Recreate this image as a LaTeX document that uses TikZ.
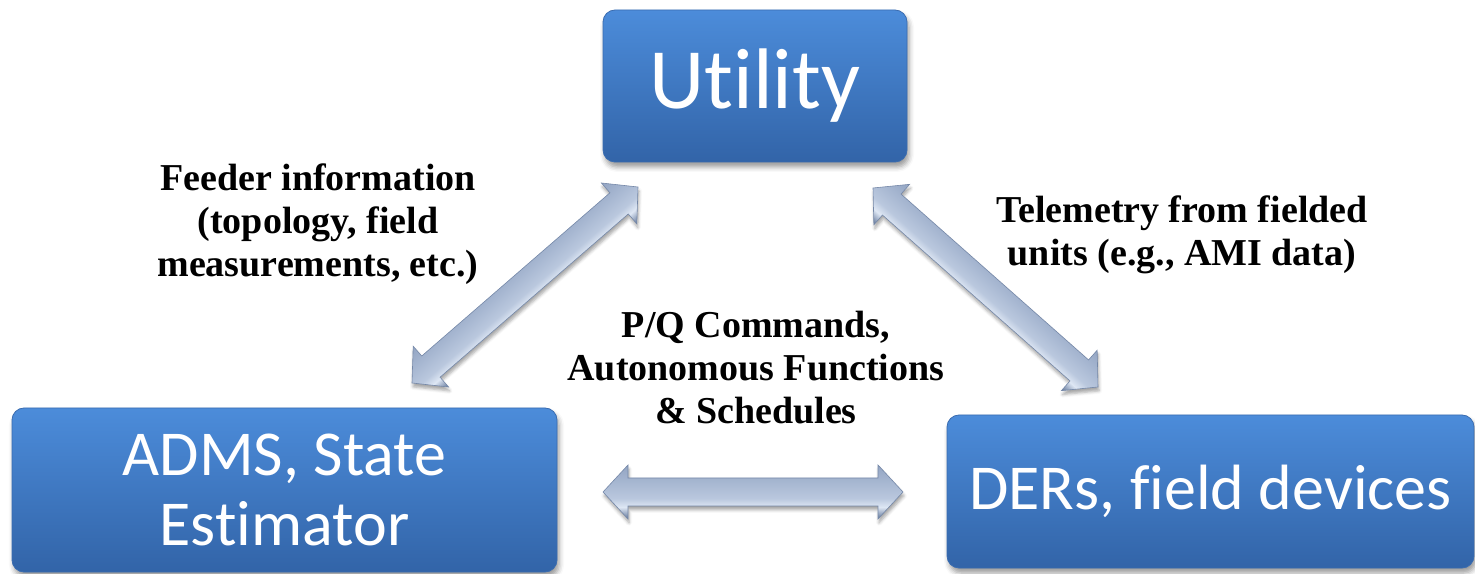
\documentclass[tikz,border=0pt]{standalone}
\usepackage{fontspec}
\setmainfont{Liberation Serif}
\newfontfamily\boxfont[Ligatures={NoCommon}]{Carlito}
\usetikzlibrary{shadows.blur}

\definecolor{boxtop}{HTML}{4C8CDA}
\definecolor{boxbot}{HTML}{3264A8}
\definecolor{boxedge}{HTML}{3A6CB0}
\definecolor{arrowedge}{HTML}{7588A8}

% steel-blue gradient across the width of the block arrows
\pgfdeclareverticalshading{arrowshade}{100bp}{%
  color(0bp)=(arrowedge!85!black);
  color(24bp)=(arrowedge!85!black);
  color(27bp)=(arrowedge);
  color(36bp)=({rgb,255:red,222;green,231;blue,244});
  color(44bp)=({rgb,255:red,186;green,200;blue,222});
  color(58bp)=({rgb,255:red,168;green,184;blue,210});
  color(76bp)=({rgb,255:red,146;green,164;blue,194});
  color(100bp)=({rgb,255:red,146;green,164;blue,194})}

% double-headed block arrow from one named point to another
\newcommand\linkarrow[2]{%
  \path (#1); \pgfgetlastxy{\lax}{\lay}%
  \path (#2); \pgfgetlastxy{\lbx}{\lby}%
  \pgfmathsetmacro\lang{atan2(\lby-\lay,\lbx-\lax)}%
  \pgfmathsetmacro\llen{veclen(\lbx-\lax,\lby-\lay)}%
  \pgfmathsetmacro\sdx{4*cos(-75-\lang)}%
  \pgfmathsetmacro\sdy{4*sin(-75-\lang)}%
  \begin{scope}[transform canvas={shift={(\lax,\lay)},rotate=\lang}]
    \shade[shading=arrowshade, draw=arrowedge, line width=.6pt,
      blur shadow={shadow xshift=\sdx pt, shadow yshift=\sdy pt,
                   shadow opacity=35, shadow blur radius=3pt}]
      (0,0) -- (25,27) -- (25,14) -- (\llen-25,14) -- (\llen-25,27)
      -- (\llen,0) -- (\llen-25,-27) -- (\llen-25,-14) -- (25,-14)
      -- (25,-27) -- cycle;
  \end{scope}}

\tikzset{
  box/.style={rounded corners=12pt, top color=boxtop, bottom color=boxbot,
    draw=boxedge, line width=.8pt, text=white, align=center, inner sep=0pt,
    blur shadow={shadow xshift=2pt, shadow yshift=-5pt, shadow opacity=40,
                 shadow blur radius=5pt}},
  lbl/.style={align=center, inner sep=0pt,
    font=\bfseries\fontsize{38}{43}\selectfont}
}

\begin{document}
\begin{tikzpicture}[x=1pt,y=1pt]
\useasboundingbox (0,0) rectangle (1475,573);

% the three parties
\node[box, minimum width=304pt, minimum height=152pt,
      font=\boxfont\fontsize{86}{90}\selectfont] (util) at (755,487) {Utility};
\node[box, minimum width=545pt, minimum height=164pt,
      font=\boxfont\fontsize{64}{70}\selectfont] (adms) at (284.5,83) {ADMS, State\\Estimator};
\node[box, minimum width=527pt, minimum height=153pt,
      font=\boxfont\fontsize{64}{70}\selectfont] (ders) at (1210.5,81.5) {DERs, field devices};

% arrow end points
\coordinate (la) at (412,190);
\coordinate (lb) at (638,386);
\coordinate (ra) at (873,385);
\coordinate (rb) at (1098,186);
\coordinate (ha) at (603,81);
\coordinate (hb) at (903,81);

\linkarrow{la}{lb}
\linkarrow{ra}{rb}
\linkarrow{ha}{hb}

% information flows
\node[lbl] (feed) at (318,349) {Feeder information\\(topology, field\\measurements, etc.)};
\node[lbl] (tele) at (1182,338) {Telemetry from fielded\\units (e.g., AMI data)};
\node[lbl] (cmds) at (756,205) {P/Q Commands,\\Autonomous Functions\\\& Schedules};
\end{tikzpicture}
\end{document}
